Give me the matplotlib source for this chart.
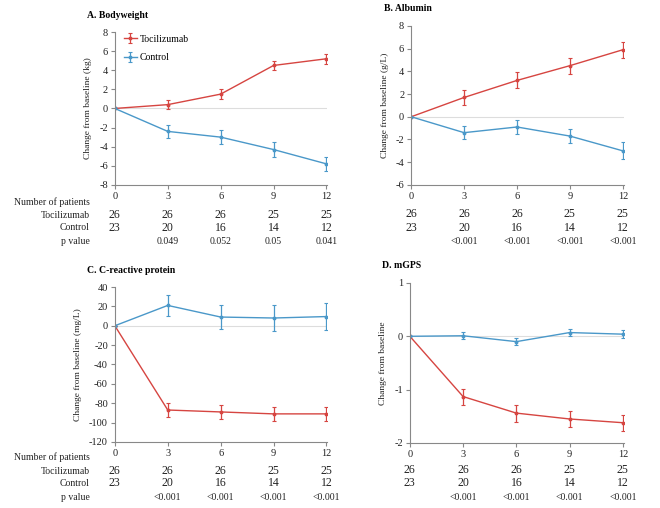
import numpy as np
import matplotlib.pyplot as plt
from matplotlib.transforms import blended_transform_factory

plt.rcParams['font.family'] = ['Liberation Serif', 'DejaVu Serif']
plt.rcParams['font.size'] = 7
plt.rcParams['axes.unicode_minus'] = False

months = [0, 3, 6, 9, 12]
n_toci = ['26', '26', '26', '25', '25']
n_ctrl = ['23', '20', '16', '14', '12']

# panel data: means and error bars
bw_toci = [0, 0.4, 1.5, 4.5, 5.2]
bw_toci_err = [0, 0.5, 0.5, 0.5, 0.5]
bw_ctrl = [0, -2.4, -3.0, -4.3, -5.8]
bw_ctrl_err = [0, 0.65, 0.7, 0.75, 0.75]
bw_p = ['', '0.049', '0.052', '0.05', '0.041']

alb_toci = [0, 1.7, 3.2, 4.5, 5.9]
alb_toci_err = [0, 0.7, 0.7, 0.7, 0.7]
alb_ctrl = [0, -1.4, -0.9, -1.7, -3.0]
alb_ctrl_err = [0, 0.6, 0.65, 0.65, 0.75]
alb_p = ['', '<0.001', '<0.001', '<0.001', '<0.001']

crp_toci = [0, -87, -89, -91, -91]
crp_toci_err = [0, 7, 7, 7.5, 7.5]
crp_ctrl = [0, 21, 9, 8, 9.5]
crp_ctrl_err = [0, 11, 12, 13, 13.5]
crp_p = ['', '<0.001', '<0.001', '<0.001', '<0.001']

gps_toci = [0, -1.13, -1.44, -1.55, -1.62]
gps_toci_err = [0, 0.15, 0.16, 0.15, 0.15]
gps_ctrl = [0, 0.01, -0.1, 0.07, 0.04]
gps_ctrl_err = [0, 0.07, 0.07, 0.07, 0.07]
gps_p = ['', '<0.001', '<0.001', '<0.001', '<0.001']

red = '#d64541'
blue = '#4a98c9'

fig = plt.figure(figsize=(6.6, 5.08), dpi=100)

panels = [
    ([0.174, 0.636, 0.322, 0.301], 'A. Bodyweight', 'Change from baseline (kg)',
     (-8, 8), np.arange(-8, 9, 2), bw_toci, bw_toci_err, bw_ctrl, bw_ctrl_err, bw_p,
     [202, 215, 228, 241], True),
    ([0.623, 0.636, 0.322, 0.313], 'B. Albumin', 'Change from baseline (g/L)',
     (-6, 8), np.arange(-6, 9, 2), alb_toci, alb_toci_err, alb_ctrl, alb_ctrl_err, alb_p,
     [202, 214, 228, 241], False),
    ([0.174, 0.130, 0.322, 0.305], 'C. C-reactive protein', 'Change from baseline (mg/L)',
     (-120, 40), np.arange(-120, 41, 20), crp_toci, crp_toci_err, crp_ctrl, crp_ctrl_err, crp_p,
     [457, 471, 483, 497], True),
    ([0.621, 0.128, 0.324, 0.315], 'D. mGPS', 'Change from baseline',
     (-2, 1), [-2, -1, 0, 1], gps_toci, gps_toci_err, gps_ctrl, gps_ctrl_err, gps_p,
     [457, 470, 483, 497], False),
]

for i, (rect, title, ylab, ylim, yticks, toci, terr, ctrl, cerr, pv, rows, show_lab) in enumerate(panels):
    ax = fig.add_axes(rect)
    ax.axhline(0, color='#dddddd', lw=0.8, zorder=0)
    ax.errorbar(months, toci, yerr=terr, color=red, lw=1.0, marker='o', ms=1.8,
                elinewidth=0.9, capsize=1.5, capthick=0.8, label='Tocilizumab')
    ax.errorbar(months, ctrl, yerr=cerr, color=blue, lw=1.0, marker='o', ms=1.8,
                elinewidth=0.9, capsize=1.5, capthick=0.8, label='Control')
    ax.set_xlim(0, 12.05)
    ax.set_ylim(*ylim)
    ax.set_xticks(months)
    ax.set_yticks(yticks)
    ax.spines['top'].set_visible(False)
    ax.spines['right'].set_visible(False)
    for s in ['left', 'bottom']:
        ax.spines[s].set_color('#888888')
        ax.spines[s].set_linewidth(0.8)
    ax.tick_params(colors='#888888', labelcolor='#222222', length=3, width=0.8, labelsize=7.5, pad=2)
    ax.set_ylabel(ylab, fontsize=6.8, color='#222222', labelpad=5)
    ax.text(-0.13, 1.08, title, transform=ax.transAxes, fontsize=7, fontweight='bold',
            ha='left', va='bottom')
    if i == 0:
        ax.legend(loc='upper left', bbox_to_anchor=(0.0, 1.04), frameon=False, fontsize=7,
                  handlelength=1.4, labelspacing=1.0, handletextpad=0.3)

    trans = blended_transform_factory(ax.transData, fig.transFigure)
    texts = [n_toci, n_ctrl, pv]
    sizes = [8.5, 8.5, 7]
    for r, vals, fs in zip(rows[1:], texts, sizes):
        for m, v in zip(months, vals):
            ax.text(m, 1 - r / 508, v, transform=trans, ha='center', va='center',
                    fontsize=fs, color='#222222')
    if show_lab:
        labels = ['Number of patients', 'Tocilizumab', 'Control', 'p value']
        for r, lab in zip(rows, labels):
            fig.text(90 / 660, 1 - r / 508, lab, ha='right', va='center', fontsize=7, color='#222222')

fig.savefig('out.png', dpi=100)
